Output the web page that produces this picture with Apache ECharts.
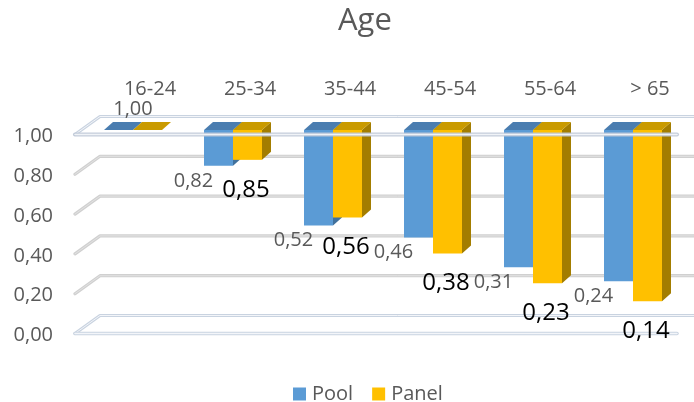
<!DOCTYPE html>
<html>
<head>
<meta charset="utf-8">
<style>
  html, body { margin: 0; padding: 0; background: #ffffff; }
  #chart { width: 694px; height: 402px; }
</style>
<script src="https://cdn.jsdelivr.net/npm/echarts@6/dist/echarts.min.js"></script>
</head>
<body>
<div id="chart"></div>
<script>
// Share of respondents by age group, Pool vs Panel
const categories = ['16-24', '25-34', '35-44', '45-54', '55-64', '> 65'];
const poolValues = [1.00, 0.82, 0.52, 0.46, 0.31, 0.24];
const panelValues = [1.00, 0.85, 0.56, 0.38, 0.23, 0.14];
const yTicks = [0, 0.2, 0.4, 0.6, 0.8, 1.0];

const FONT = '"Open Sans", "Noto Sans", sans-serif';
const GREY_TEXT = '#595959';

const fmt = v => v.toFixed(2).replace('.', ',');

// Depth of the pseudo-3D bars and of the side wall / floor
const BAR_DX = 9, BAR_DY = 8;
const WALL_FRONT_DX = -8, WALL_BACK_DX = 17;
const FRONT_DY = 4.5, BACK_DY = -13.5;

function barRenderer(side, faceColor, topColor, sideColor, labelFn) {
  return function (params, api) {
    const i = api.value(0);
    const v = api.value(1);
    const band = api.size([1, 0])[0];
    const w = band * 0.29;
    const top = api.coord([i, 1]);
    const yTop = top[1];
    const yBot = api.coord([i, v])[1];
    const x0 = side === 'left' ? top[0] - w : top[0];
    const children = [
      {
        type: 'polygon',
        shape: { points: [[x0 + w, yTop], [x0 + w + BAR_DX, yTop - BAR_DY], [x0 + w + BAR_DX, yBot - BAR_DY], [x0 + w, yBot]] },
        style: { fill: sideColor }
      },
      {
        type: 'rect',
        shape: { x: x0, y: yTop, width: w, height: Math.max(0, yBot - yTop) },
        style: { fill: faceColor }
      },
      {
        type: 'polygon',
        shape: { points: [[x0, yTop], [x0 + BAR_DX, yTop - BAR_DY], [x0 + w + BAR_DX, yTop - BAR_DY], [x0 + w, yTop]] },
        style: { fill: topColor }
      }
    ];
    const lab = labelFn(v, x0, w, yTop, yBot, top[0]);
    if (lab) children.push(lab);
    return { type: 'group', children: children };
  };
}

function poolLabel(v, x0, w, yTop, yBot, c) {
  const flat = yBot - yTop < 1;
  return {
    type: 'text',
    style: {
      text: fmt(v),
      x: flat ? c : x0 + w / 2 - 25,
      y: flat ? yTop - 21 : yBot + 15,
      align: 'center', verticalAlign: 'middle',
      fontSize: 20, fontFamily: FONT, fill: GREY_TEXT
    }
  };
}

function panelLabel(v, x0, w, yTop, yBot) {
  if (yBot - yTop < 1) return null;
  return {
    type: 'text',
    style: {
      text: fmt(v),
      x: x0 + w / 2 - 1.5,
      y: yBot + 30,
      align: 'center', verticalAlign: 'middle',
      fontSize: 24, fontFamily: FONT, fill: '#000000'
    }
  };
}

function gridLine(points, outer, inner, outerW, innerW) {
  return [
    { type: 'polyline', shape: { points: points }, style: { stroke: outer, lineWidth: outerW, fill: null, lineJoin: 'round', lineCap: 'round' } },
    { type: 'polyline', shape: { points: points }, style: { stroke: inner, lineWidth: innerW, fill: null, lineJoin: 'round', lineCap: 'round' } }
  ];
}

// Back wall gridlines with their diagonal stub on the side wall
function wallRenderer(params, api) {
  const v = api.value(1);
  const cs = params.coordSys;
  const L = cs.x, R = cs.x + cs.width;
  const y = api.coord([0, v])[1];
  const yf = y + FRONT_DY, yb = y + BACK_DY;
  const isPlane = v === 0 || v === 1;
  const outer = isPlane ? '#c9d3e0' : '#d0d0d0';
  const inner = isPlane ? '#f3f5f9' : '#e2e2e2';
  let children = gridLine([[L + WALL_FRONT_DX, yf], [L + WALL_BACK_DX, yb], [R + 30, yb]], outer, inner, 3.2, 1);
  if (v === 0) {
    children = children.concat(gridLine([[L + WALL_FRONT_DX, yf], [R - 6, yf]], outer, inner, 3.5, 1.5));
  }
  return { type: 'group', children: children };
}

// Front edge of the floor plane at 1,00, drawn across the bars
function floorEdgeRenderer(params, api) {
  const cs = params.coordSys;
  const L = cs.x, R = cs.x + cs.width;
  const y = api.coord([0, 1])[1] + FRONT_DY;
  return {
    type: 'group',
    children: gridLine([[L + WALL_FRONT_DX, y], [R - 6, y]], 'rgba(190,200,214,0.9)', 'rgba(245,247,250,0.9)', 4, 1.5)
  };
}

const chart = echarts.init(document.getElementById('chart'), null, { renderer: 'canvas' });

const labelText = { fontFamily: FONT, fontSize: 20, color: GREY_TEXT };

chart.setOption({
  animation: false,
  backgroundColor: '#ffffff',
  title: {
    text: 'Age',
    left: 333,
    top: 1,
    textStyle: { fontFamily: FONT, fontSize: 31, fontWeight: 'normal', color: GREY_TEXT }
  },
  legend: {
    data: ['Pool', 'Panel'],
    left: 288,
    top: 379,
    icon: 'rect',
    itemWidth: 13,
    itemHeight: 13,
    itemGap: 19,
    textStyle: { fontFamily: FONT, fontSize: 20, color: GREY_TEXT, padding: [0, 0, 0, 1] }
  },
  grid: [
    // bars (front faces)
    { left: 83, width: 600, top: 130, height: 199 },
    // value labels sit on the front edge of the side wall
    { left: 83, width: 600, top: 136.5, height: 199 }
  ],
  xAxis: [
    {
      type: 'category',
      gridIndex: 0,
      position: 'top',
      data: categories,
      axisLine: { show: false },
      axisTick: { show: false },
      splitLine: { show: false },
      axisLabel: Object.assign({ margin: 31, padding: [0, 0, 0, 34] }, labelText)
    },
    {
      type: 'category',
      gridIndex: 1,
      data: categories,
      show: false
    }
  ],
  yAxis: [
    {
      type: 'value',
      gridIndex: 0,
      min: 0, max: 1, interval: 0.2,
      axisLine: { show: false },
      axisTick: { show: false },
      splitLine: { show: false },
      axisLabel: { show: false }
    },
    {
      type: 'value',
      gridIndex: 1,
      min: 0, max: 1, interval: 0.2,
      axisLine: { show: false },
      axisTick: { show: false },
      splitLine: { show: false },
      axisLabel: Object.assign({ margin: 30, formatter: v => fmt(v) }, labelText)
    }
  ],
  series: [
    {
      name: 'walls',
      type: 'custom',
      z: 1,
      silent: true,
      data: yTicks.map(v => [0, v]),
      encode: { x: 0, y: 1 },
      renderItem: wallRenderer
    },
    {
      name: 'Pool',
      type: 'custom',
      z: 3,
      itemStyle: { color: '#5B9BD5' },
      data: poolValues.map((v, i) => [i, v]),
      encode: { x: 0, y: 1 },
      renderItem: barRenderer('left', '#5B9BD5', '#4A7DB0', '#41719C', poolLabel)
    },
    {
      name: 'Panel',
      type: 'custom',
      z: 4,
      itemStyle: { color: '#FFC000' },
      data: panelValues.map((v, i) => [i, v]),
      encode: { x: 0, y: 1 },
      renderItem: barRenderer('right', '#FFC000', '#C99A00', '#A37D00', panelLabel)
    },
    {
      name: 'floor edge',
      type: 'custom',
      z: 5,
      silent: true,
      data: [[0, 1]],
      encode: { x: 0, y: 1 },
      renderItem: floorEdgeRenderer
    }
  ]
});
</script>
</body>
</html>
